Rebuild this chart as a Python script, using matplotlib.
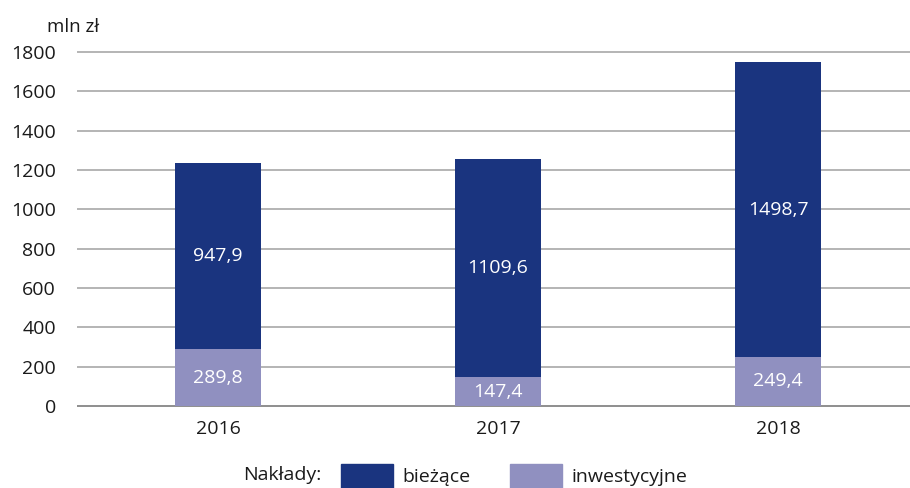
import matplotlib
matplotlib.use("Agg")
import matplotlib.pyplot as plt
import matplotlib.patches as mpatches
import numpy as np

plt.rcParams['font.family'] = ['Open Sans', 'DejaVu Sans']

# data
years = ["2016", "2017", "2018"]
inwestycyjne = [289.8, 147.4, 249.4]
biezace = [947.9, 1109.6, 1498.7]

dark = "#1a347f"
light = "#9090c0"

fig = plt.figure(figsize=(9.1, 4.88), dpi=100)
ax = fig.add_axes([78/910, (488-406)/488, 832/910, (406-52)/488])

x = np.arange(len(years))
w = 0.31
ax.bar(x, inwestycyjne, w, color=light, zorder=3)
ax.bar(x, biezace, w, bottom=inwestycyjne, color=dark, zorder=3)

# value labels inside bars
def fmt(v):
    return f"{v:.1f}".replace(".", ",")

for i in range(len(years)):
    ax.text(x[i], inwestycyjne[i] / 2, fmt(inwestycyjne[i]), ha="center", va="center",
            color="white", fontsize=14)
    ax.text(x[i], inwestycyjne[i] + biezace[i] / 2, fmt(biezace[i]), ha="center", va="center",
            color="white", fontsize=14)

ax.set_xlim(-0.5, -0.5 + 832/280)
ax.set_ylim(0, 1800)
ax.set_yticks(range(0, 1801, 200))
ax.set_xticks(x)
ax.set_xticklabels(years)
ax.tick_params(axis="both", length=0, labelsize=14, colors="#1a1a1a")
ax.tick_params(axis="y", pad=16)
ax.tick_params(axis="x", pad=10)
ax.grid(axis="y", color="#b4b4b4", linewidth=1.4, zorder=0)
for s in ["top", "right", "left"]:
    ax.spines[s].set_visible(False)
ax.spines["bottom"].set_color("#909090")
ax.spines["bottom"].set_linewidth(1.4)
for gl in ax.get_ygridlines():
    gl.set_clip_on(False)

fig.text(47/910, 1 - 27/488, "mln zł", fontsize=13.5, color="#1a1a1a", va="center")

# legend at bottom
fig.text(243/910, 1 - 475/488, "Nakłady:", fontsize=14, color="#1a1a1a", va="center")
handles = [mpatches.Patch(color=dark, label="bieżące"),
           mpatches.Patch(color=light, label="inwestycyjne")]
fig.legend(handles=handles, ncol=2, loc="center left", bbox_to_anchor=(323/910, 1 - 476/488),
           frameon=False, fontsize=14, handlelength=2.7, handleheight=1.5,
           handletextpad=0.5, columnspacing=2.0, labelcolor="#1a1a1a")

fig.savefig("out.png", dpi=100)
